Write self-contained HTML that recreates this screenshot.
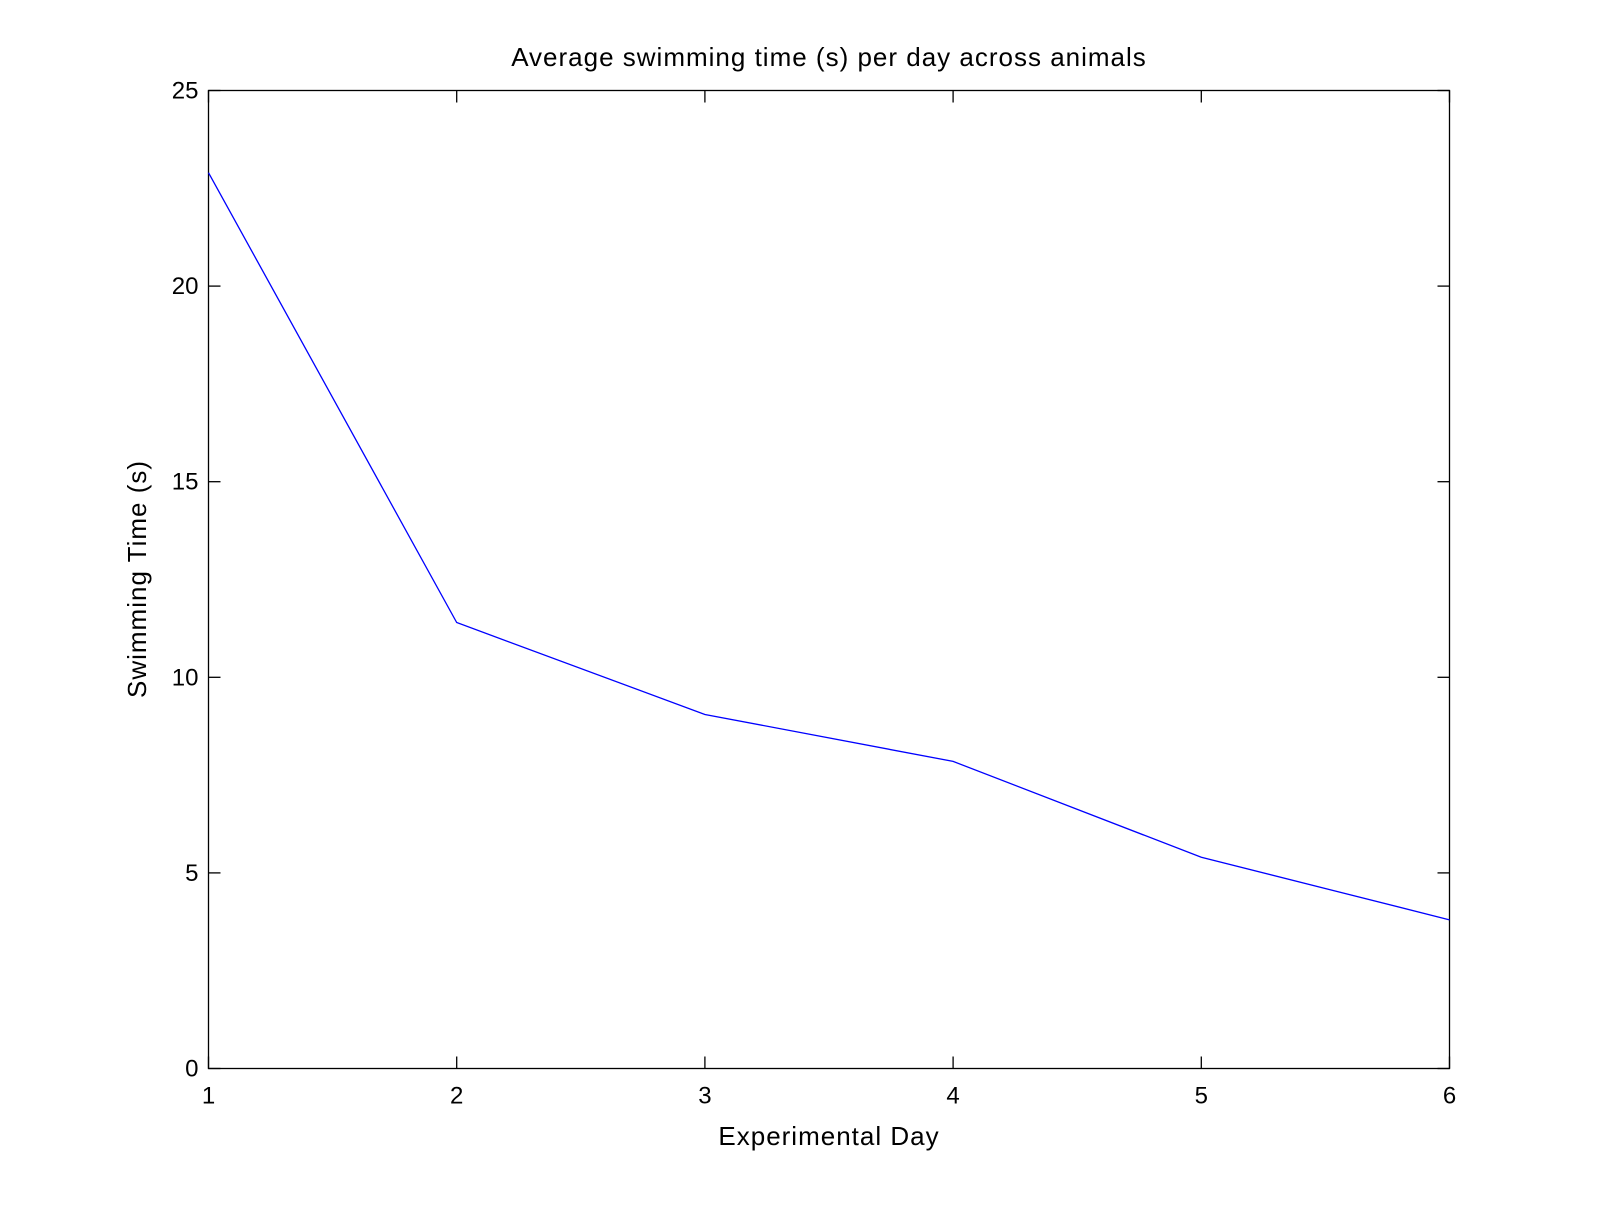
<!DOCTYPE html>
<html><head><meta charset="utf-8"><style>
html,body{margin:0;padding:0;background:#fff;}
svg text{font-family:"Liberation Sans",sans-serif;fill:#000;}
.lbl{font-size:26px;letter-spacing:1px;}
</style></head><body>
<svg id="chart" width="1600" height="1200">
<rect width="1600" height="1200" fill="#fff"/>
<text class="lbl" x="829" y="66" text-anchor="middle">Average swimming time (s) per day across animals</text>
<text class="lbl" x="829" y="1145" text-anchor="middle">Experimental Day</text>
<text class="lbl" transform="translate(146,579) rotate(-90)" text-anchor="middle">Swimming Time (s)</text>
<g id="axes"></g>
</svg>
<script>
const days=[1,2,3,4,5,6];
const swimTime=[22.9,11.4,9.05,7.85,5.4,3.8];
const xTicks=[1,2,3,4,5,6];
const yTicks=[0,5,10,15,20,25];
const L=208.5,R=1449.5,T=90.5,B=1068.5;
const xs=v=>L+(v-1)/5*(R-L);
const ys=v=>B-v/25*(B-T);
const NS='http://www.w3.org/2000/svg';
const g=document.getElementById('axes');
function mk(t,a){const e=document.createElementNS(NS,t);for(const k in a)e.setAttribute(k,a[k]);g.appendChild(e);return e;}
const frame=mk('rect',{x:L,y:T,width:R-L,height:B-T,fill:'none',stroke:'#000','stroke-width':1.3});


xTicks.forEach(v=>{
 const x=xs(v);
 mk('line',{x1:x,y1:B,x2:x,y2:B-12,stroke:'#000','stroke-width':1.3});
 mk('line',{x1:x,y1:T,x2:x,y2:T+12,stroke:'#000','stroke-width':1.3});
 const t=mk('text',{x:x,y:B+35,'font-size':24,'text-anchor':'middle'});t.textContent=v;
 
 
});
yTicks.forEach(v=>{
 const y=ys(v);
 mk('line',{x1:L,y1:y,x2:L+12,y2:y,stroke:'#000','stroke-width':1.3});
 mk('line',{x1:R,y1:y,x2:R-12,y2:y,stroke:'#000','stroke-width':1.3});
 const t=mk('text',{x:L-10,y:y+8,'font-size':24,'text-anchor':'end'});t.textContent=v;
 
 
});
const line=mk('polyline',{points:days.map((d,i)=>xs(d)+','+ys(swimTime[i])).join(' '),fill:'none',stroke:'#0000ff','stroke-width':1.3});


</script>
</body></html>
